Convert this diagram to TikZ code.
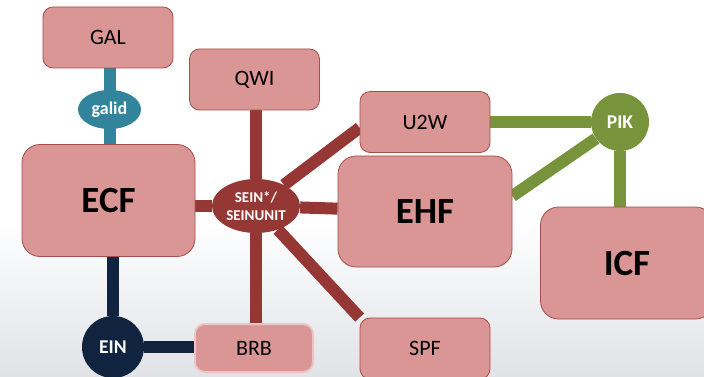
\documentclass[tikz,border=0pt]{standalone}
\usepackage{fontspec}
\setmainfont{Carlito}
\usetikzlibrary{shapes.geometric,backgrounds}

\definecolor{boxfill}{HTML}{D99694}
\definecolor{boxline}{HTML}{A84D4B}
\definecolor{seinred}{HTML}{953735}
\definecolor{galteal}{HTML}{31849B}
\definecolor{einnavy}{HTML}{10243F}
\definecolor{pikgreen}{HTML}{77933C}
\definecolor{floorgray}{HTML}{E0E2E6}

\tikzset{
  tab/.style={rectangle, rounded corners=10pt, draw=boxline, fill=boxfill,
    line width=0.8pt, minimum width=130pt, minimum height=61pt, inner sep=0pt,
    font=\fontsize{22}{26}\selectfont},
  bigtab/.style={tab, rounded corners=18pt, minimum width=173pt,
    minimum height=112pt, font=\fontsize{37}{44}\selectfont\bfseries},
  key/.style={ellipse, inner sep=0pt, text=white},
  hub/.style={circle, inner sep=0pt, text=white,
    font=\fontsize{19.5}{23}\selectfont\bfseries},
  link/.style={line width=12pt},
}

\begin{document}
\begin{tikzpicture}[x=1pt,y=-1pt]
    \useasboundingbox (0,0) rectangle (704,377);
    % Draw the tables
    \node [tab] (GAL) at (108,37.5) {GAL};
    \node [key, fill=galteal, minimum width=63pt, minimum height=39pt,
        font=\fontsize{18}{21}\selectfont\bfseries] (galid) at (109.5,109.5) {galid};
    \node [bigtab] (ECF) at (108.5,200.5) {ECF};
    \node [tab] (QWI) at (254.5,79.5) {QWI};
    \node [key, fill=seinred, minimum width=88pt, minimum height=54pt, align=center,
        font=\fontsize{15}{18}\selectfont\bfseries] (SEIN) at (256,206) {SEIN*/\\SEINUNIT};
    \node [tab] (U2W) at (425,122) {U2W};
    \node [bigtab, minimum width=174pt, minimum height=111pt] (EHF) at (425,211.5) {EHF};
    \node [hub, fill=pikgreen, minimum size=58pt] (PIK) at (620,122) {PIK};
    \node [bigtab] (ICF) at (627,263) {ICF};
    \node [tab] (SPF) at (425,348.5) {SPF};
    \node [tab, draw=boxfill!55!white, line width=2pt, minimum width=118pt,
        minimum height=48pt] (BRB) at (254,348) {BRB};
    \node [hub, fill=einnavy, minimum size=62pt] (EIN) at (113,347) {EIN};

    \begin{scope}[on background layer]
        % Draw the backdrop
        \fill [white] (0,0) rectangle (704,377);
        \shade [top color=white, bottom color=floorgray] (0,220) rectangle (704,377);

        % Draw the links
        \draw [link, galteal] (galid |- GAL) -- (galid |- ECF);
        \draw [link, seinred] (SEIN) -- (SEIN -| ECF);
        \draw [link, seinred] (SEIN) -- (EHF);
        \draw [link, seinred] (SEIN) -- (SEIN |- QWI);
        \draw [link, seinred] (SEIN) -- (SEIN |- BRB);
        \draw [link, seinred] (SEIN) -- (U2W.185);
        \draw [link, seinred] (SEIN) -- (SPF.north west);
        \draw [link, einnavy] (EIN) -- (EIN |- ECF);
        \draw [link, einnavy] (EIN) -- (EIN -| BRB);
        \draw [link, pikgreen] (U2W) -- (PIK);
        \draw [link, pikgreen] (EHF.10) -- (PIK);
        \draw [link, pikgreen] (PIK) -- (PIK |- ICF);
    \end{scope}
\end{tikzpicture}
\end{document}
